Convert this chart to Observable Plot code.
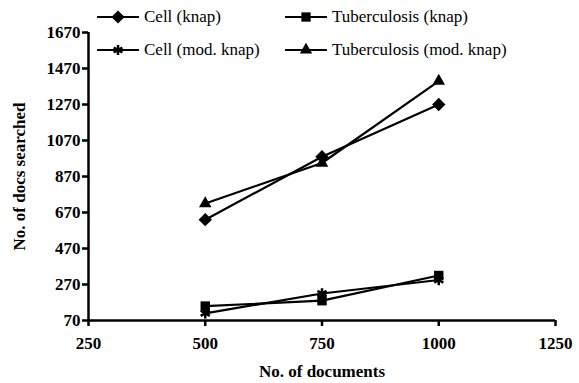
<!DOCTYPE html>
<html><head><meta charset="utf-8">
<script src="https://cdn.jsdelivr.net/npm/d3@7"></script>
<script src="https://cdn.jsdelivr.net/npm/@observablehq/plot@0.6"></script>
<style>
body{margin:0;background:#fff;}
#wrap{position:relative;width:579px;height:383px;font-family:"Liberation Serif","DejaVu Serif",serif;}
#wrap svg text{font-family:"Liberation Serif","DejaVu Serif",serif;}
.leg{position:absolute;display:flex;align-items:center;font-size:17px;color:#000;white-space:nowrap;font-family:"Liberation Serif","DejaVu Serif",serif;}
.leg svg{margin-right:3px;}
</style></head>
<body><div id="wrap"></div>
<script>
const docs = [500, 750, 1000];
const cellKnap = [630, 980, 1270];
const cellMod = [110, 220, 295];
const tubKnap = [150, 180, 320];
const tubMod = [720, 945, 1400];
const yTicks = [70, 270, 470, 670, 870, 1070, 1270, 1470, 1670];
const xTicks = [250, 500, 750, 1000, 1250];
const seriesNames = ["Cell (knap)", "Cell (mod. knap)", "Tuberculosis (knap)", "Tuberculosis (mod. knap)"];
const seriesVals = [cellKnap, cellMod, tubKnap, tubMod];
const symbols = ["diamond2", "asterisk", "square2", "triangle2"];

const data = [];
seriesNames.forEach((s, i) => docs.forEach((d, j) => data.push({series: s, x: d, y: seriesVals[i][j], sym: symbols[i]})));

const FONT = "'Liberation Serif', 'DejaVu Serif', serif";
const chart = Plot.plot({
  width: 579, height: 383,
  marginLeft: 88, marginRight: 24, marginTop: 32, marginBottom: 63,
  style: {fontFamily: FONT, fontSize: "17px", fontWeight: "bold", color: "#000", background: "#fff"},
  x: {domain: [250, 1250], ticks: xTicks, tickSize: 6, label: null},
  y: {domain: [70, 1670], ticks: yTicks, tickSize: 6, label: null},
  marks: [
    Plot.line(data, {x: "x", y: "y", z: "series", stroke: "#000", strokeWidth: 2.2}),
    Plot.dot(data.filter(d => d.sym !== "asterisk"), {x: "x", y: "y", symbol: "sym", fill: "#000", r: 6}),
    Plot.dot(data.filter(d => d.sym === "asterisk"), {x: "x", y: "y", symbol: "asterisk", stroke: "#000", strokeWidth: 2.5, r: 5}),
    Plot.axisX({ticks: xTicks, tickFormat: "d", tickSize: 6, tickPadding: 10, strokeWidth: 2.5, fontSize: 17, fontWeight: "bold", label: "No. of documents", labelAnchor: "center", labelArrow: "none", labelOffset: 56}),
    Plot.axisY({ticks: yTicks, tickFormat: "d", tickSize: 6, tickPadding: 2, strokeWidth: 2.5, fontSize: 17, fontWeight: "bold", label: "No. of docs searched", labelAnchor: "center", labelArrow: "none", labelOffset: 76}),
    Plot.ruleX([250], {strokeWidth: 2.5}),
    Plot.ruleY([70], {strokeWidth: 2.5})
  ]
});
const wrap = document.getElementById("wrap");
wrap.appendChild(chart);

// legend overlay
const legPos = [[95, 6], [95, 39], [283, 6], [283, 39]];
seriesNames.forEach((name, i) => {
  const div = document.createElement("div");
  div.className = "leg";
  div.style.left = legPos[i][0] + "px";
  div.style.top = legPos[i][1] + "px";
  const sym = d3.symbol(i === 0 ? d3.symbolDiamond2 : i === 1 ? d3.symbolAsterisk : i === 2 ? d3.symbolSquare2 : d3.symbolTriangle2, i === 1 ? 70 : 110)();
  const fill = i === 1 ? "none" : "#000";
  div.innerHTML = `<svg width="46" height="22"><line x1="2" x2="44" y1="11" y2="11" stroke="#000" stroke-width="2.2"/><path d="${sym}" transform="translate(23,11)" fill="${fill}" stroke="#000" stroke-width="${i===1?2.5:0}"/></svg><span>${name}</span>`;
  wrap.appendChild(div);
});
</script></body></html>
